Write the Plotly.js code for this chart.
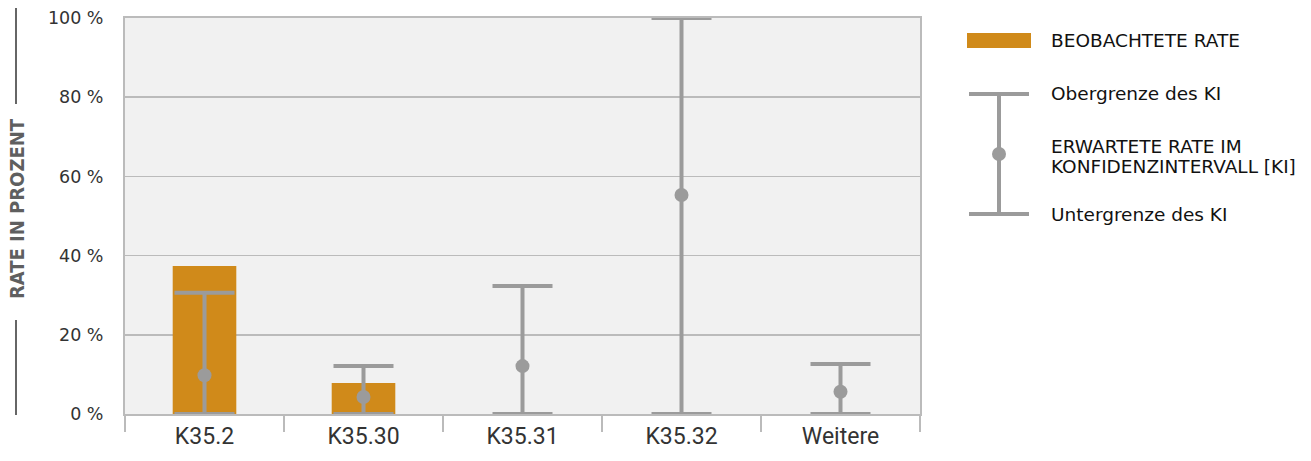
<!DOCTYPE html>
<html><head><meta charset="utf-8">
<script src="https://cdn.plot.ly/plotly-3.0.1.min.js"></script>
<style>html,body{margin:0;padding:0;background:#fff}</style>
</head><body>
<div id="chart" style="width:1311px;height:461px"></div>
<script>
const categories = ["K35.2", "K35.30", "K35.31", "K35.32", "Weitere"];
const observedRate = [37.4, 7.8, null, null, null];
const expectedRate = [9.8, 4.3, 12.1, 55.3, 5.6];
const upperCI = [30.6, 12.1, 32.3, 100, 12.6];
const lowerCI = [0, 0, 0, 0, 0];
const yTickVals = [0, 20, 40, 60, 80, 100];
const legendLabels = ["BEOBACHTETE RATE", "Obergrenze des KI", "ERWARTETE RATE IM", "KONFIDENZINTERVALL [KI]", "Untergrenze des KI"];

const L = 125, R = 920, T = 18, B = 414, W = 1311, H = 461;
const px = x => (x - L) / (R - L);
const py = y => (B - y) / (B - T);
const grey = "#9b9b9b";
const orange = "#D08A1A";

const traces = [
  {type: "bar", x: categories, y: observedRate, marker: {color: orange}, width: 0.4, hoverinfo: "skip", showlegend: false},
  {type: "scatter", mode: "markers", x: categories, y: expectedRate,
   marker: {color: grey, size: 14},
   error_y: {type: "data", symmetric: false,
     array: upperCI.map((u, i) => u - expectedRate[i]),
     arrayminus: lowerCI.map((l, i) => expectedRate[i] - l),
     color: grey, thickness: 4, width: 30},
   cliponaxis: false, showlegend: false}
];

const shapes = [
  {type: "line", xref: "paper", yref: "paper", x0: px(16), x1: px(16), y0: py(8), y1: py(104), line: {color: "#666", width: 2}},
  {type: "line", xref: "paper", yref: "paper", x0: px(16), x1: px(16), y0: py(320), y1: py(415), line: {color: "#666", width: 2}},
  {type: "rect", xref: "paper", yref: "paper", x0: px(967), x1: px(1031), y0: py(48), y1: py(33), fillcolor: orange, line: {width: 0}},
  {type: "line", xref: "paper", yref: "paper", x0: px(999), x1: px(999), y0: py(94), y1: py(214), line: {color: grey, width: 4}},
  {type: "line", xref: "paper", yref: "paper", x0: px(969), x1: px(1029), y0: py(94), y1: py(94), line: {color: grey, width: 4}},
  {type: "line", xref: "paper", yref: "paper", x0: px(969), x1: px(1029), y0: py(214), y1: py(214), line: {color: grey, width: 4}},
  {type: "circle", xref: "paper", yref: "paper", x0: px(992), x1: px(1006), y0: py(161), y1: py(147), fillcolor: grey, line: {width: 0}}
];

const legFont = {family: "DejaVu Sans", size: 18.5, color: "#111"};
const legY = [41, 93, 146, 166, 214];
const annotations = [
  {xref: "paper", yref: "paper", x: px(17), y: py(209), text: "RATE IN PROZENT", textangle: -90, showarrow: false,
   font: {family: "DejaVu Sans Condensed", size: 20, color: "#5f5f5f", weight: "bold"}, xanchor: "center", yanchor: "middle"}
].concat(legendLabels.map((t, i) => ({xref: "paper", yref: "paper", x: px(1049), y: py(legY[i]), text: t,
   showarrow: false, xanchor: "left", yanchor: "middle", font: legFont})));

const layout = {
  width: W, height: H,
  margin: {l: L, r: W - R, t: T, b: H - B, pad: 0},
  paper_bgcolor: "#fff", plot_bgcolor: "#f1f1f1",
  showlegend: false,
  xaxis: {type: "category", showline: true, linecolor: "#bbb", linewidth: 2, mirror: true,
    ticks: "outside", tickson: "boundaries", ticklen: 16, tickcolor: "#bbb", tickwidth: 2,
    showgrid: false, tickfont: {family: "Roboto", size: 23, color: "#333"}, fixedrange: true},
  yaxis: {range: [0, 100], tickvals: yTickVals, ticktext: yTickVals.map(v => v + " %"),
    showgrid: true, gridcolor: "#bbb", gridwidth: 1.5, showline: true, linecolor: "#bbb", linewidth: 2, mirror: true,
    ticks: "", ticklabelstandoff: 16, zeroline: false,
    tickfont: {family: "DejaVu Sans", size: 17.5, color: "#333"}, fixedrange: true},
  shapes: shapes, annotations: annotations
};

Plotly.newPlot("chart", traces, layout, {staticPlot: true});
</script>
</body></html>
